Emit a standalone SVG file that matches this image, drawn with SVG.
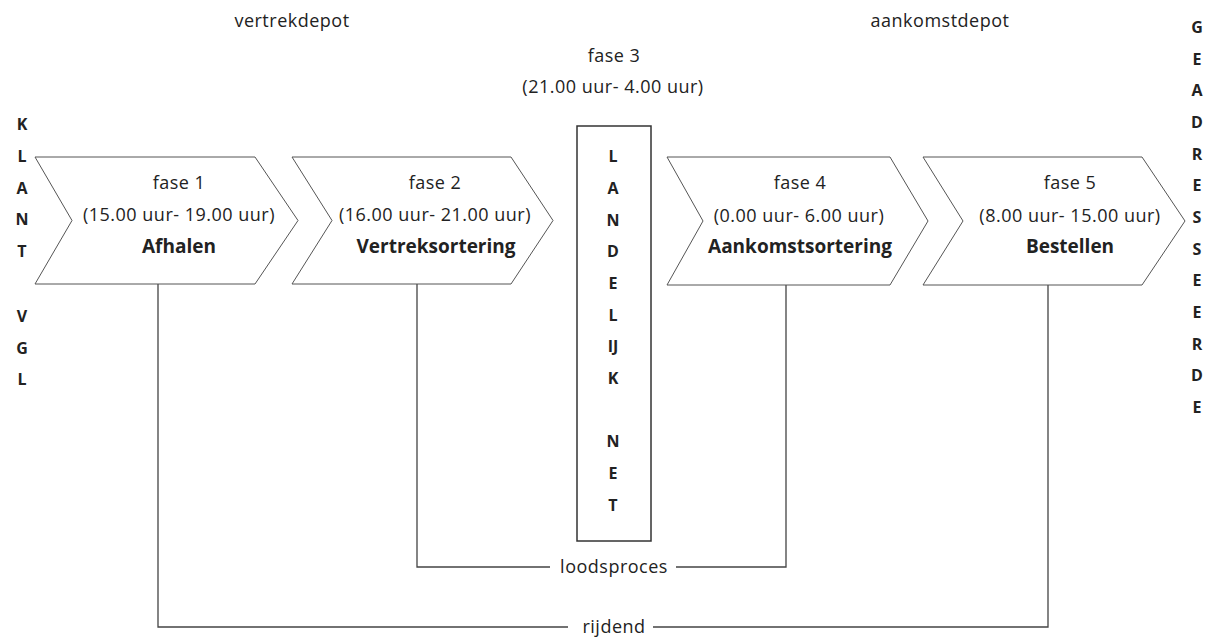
<svg xmlns="http://www.w3.org/2000/svg" width="1222" height="642" viewBox="0 0 1222 642">
<style>
.bg{fill:#ffffff}
.chev{fill:#ffffff;stroke:#555555;stroke-width:1}
.box{fill:#ffffff;stroke:#333333;stroke-width:1.5}
.conn{fill:none;stroke:#444444;stroke-width:1.3}
text{font-family:"Open Sans","Noto Sans","Liberation Sans",sans-serif;fill:#222222;text-anchor:middle}
.r{font-size:18px;letter-spacing:0.5px}
.b{font-size:19px;font-weight:bold}
.v{font-size:16px;font-weight:bold}
</style>
<rect class="bg" x="0" y="0" width="1222" height="642"/>

<g id="connectors">
<polyline class="conn" points="550,567 417,567 417,284"/>
<polyline class="conn" points="676,567 786,567 786,285"/>
<polyline class="conn" points="568,627 158,627 158,284"/>
<polyline class="conn" points="653,627 1048,627 1048,285"/>
<text class="r" x="614" y="573">loodsproces</text>
<text class="r" x="614" y="633">rijdend</text>
</g>

<g id="label-vertrekdepot"><text class="r" x="292" y="27">vertrekdepot</text></g>
<g id="label-aankomstdepot"><text class="r" x="940" y="27">aankomstdepot</text></g>

<g id="klant">
<text class="v" x="22" y="130">K</text>
<text class="v" x="22" y="162">L</text>
<text class="v" x="22" y="194">A</text>
<text class="v" x="22" y="225">N</text>
<text class="v" x="22" y="257">T</text>
<text class="v" x="22" y="322">V</text>
<text class="v" x="22" y="354">G</text>
<text class="v" x="22" y="385">L</text>
</g>

<g id="fase1">
<polygon class="chev" points="35,157 255,157 298,220.5 255,284 35,284 72,220.5"/>
<text class="r" x="179" y="189">fase 1</text>
<text class="r" x="179" y="221">(15.00 uur- 19.00 uur)</text>
<text class="b" x="179" y="253">Afhalen</text>
</g>

<g id="fase2">
<polygon class="chev" points="292,157 511,157 553,220.5 511,284 292,284 332,220.5"/>
<text class="r" x="435" y="189">fase 2</text>
<text class="r" x="435" y="221">(16.00 uur- 21.00 uur)</text>
<text class="b" x="436" y="253">Vertreksortering</text>
</g>

<g id="fase3">
<text class="r" x="614" y="62">fase 3</text>
<text class="r" x="613" y="93">(21.00 uur- 4.00 uur)</text>
<rect class="box" x="577" y="126" width="74" height="415"/>
<text class="v" x="613" y="162">L</text>
<text class="v" x="613" y="194">A</text>
<text class="v" x="613" y="226">N</text>
<text class="v" x="613" y="257">D</text>
<text class="v" x="613" y="289">E</text>
<text class="v" x="613" y="321">L</text>
<text class="v" x="613" y="352">IJ</text>
<text class="v" x="613" y="384">K</text>
<text class="v" x="613" y="447">N</text>
<text class="v" x="613" y="479">E</text>
<text class="v" x="613" y="511">T</text>
</g>

<g id="fase4">
<polygon class="chev" points="667,157 890,157 928,221 890,285 667,285 703,221"/>
<text class="r" x="800" y="189">fase 4</text>
<text class="r" x="799" y="222">(0.00 uur- 6.00 uur)</text>
<text class="b" x="800" y="253">Aankomstsortering</text>
</g>

<g id="fase5">
<polygon class="chev" points="923,157 1142,157 1185,221 1142,285 923,285 963,221"/>
<text class="r" x="1070" y="189">fase 5</text>
<text class="r" x="1070" y="222">(8.00 uur- 15.00 uur)</text>
<text class="b" x="1070" y="253">Bestellen</text>
</g>

<g id="geadresseerde">
<text class="v" x="1197" y="33">G</text>
<text class="v" x="1197" y="65">E</text>
<text class="v" x="1197" y="96">A</text>
<text class="v" x="1197" y="128">D</text>
<text class="v" x="1197" y="160">R</text>
<text class="v" x="1197" y="191">E</text>
<text class="v" x="1197" y="223">S</text>
<text class="v" x="1197" y="255">S</text>
<text class="v" x="1197" y="286">E</text>
<text class="v" x="1197" y="318">E</text>
<text class="v" x="1197" y="350">R</text>
<text class="v" x="1197" y="381">D</text>
<text class="v" x="1197" y="413">E</text>
</g>
</svg>
